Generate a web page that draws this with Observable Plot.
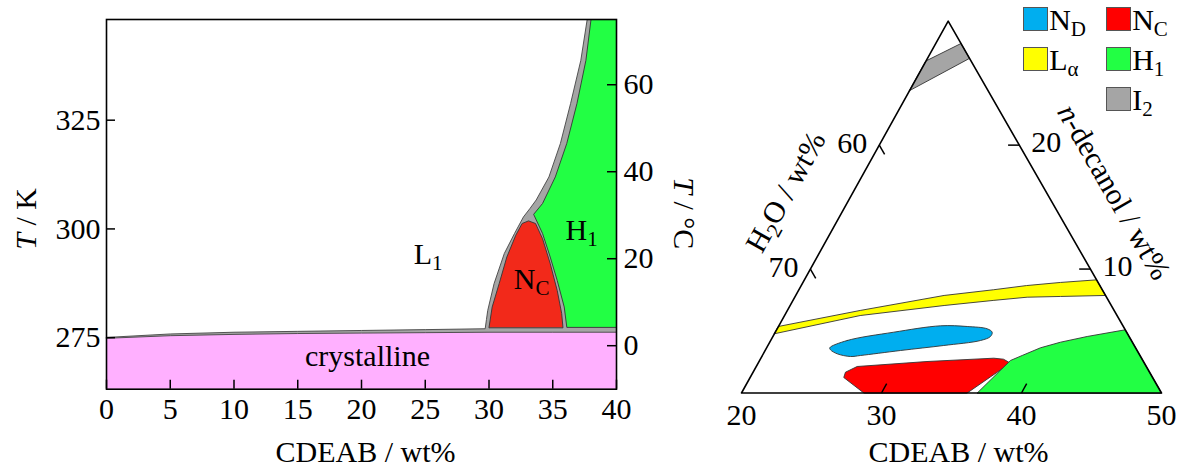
<!DOCTYPE html>
<html><head><meta charset="utf-8">
<script src="https://cdn.jsdelivr.net/npm/d3@7"></script>
<script src="https://cdn.jsdelivr.net/npm/@observablehq/plot@0.6"></script>
<style>
body{margin:0;background:#fff;}
#wrap{position:relative;width:1179px;height:468px;overflow:hidden;font-family:'Liberation Serif','Times New Roman',serif;}
#left,#right{position:absolute;top:0;}
#left{left:0;} #right{left:700px;}
.sw{position:absolute;width:23px;height:22px;border:1px solid #555;box-sizing:content-box;}
.lb{position:absolute;font-size:30px;line-height:30px;color:#000;white-space:nowrap;}
.lb sub{font-size:21px;vertical-align:baseline;position:relative;top:6px;}
</style></head><body><div id="wrap"><div id="left"></div><div id="right"></div><div id="legend"></div></div>
<script>
// ---------- Binary phase diagram: x = CDEAB wt%, y = T in °C ----------
const xTicks = [0, 5, 10, 15, 20, 25, 30, 35, 40];
const kelvinTicks = [275, 300, 325];
const celsiusTicks = [0, 20, 40, 60];
const crystallineTop = [[0,1.7],[5,2.3],[10,2.6],[15,2.8],[20,2.9],[25,3.0],[30,3.1],[35,3.1],[40,3.1]];
const l1Lower = [[0,1.9],[5,2.7],[10,3.1],[15,3.3],[20,3.5],[25,3.7],[29.7,3.9]];
const grayOuter = [[29.7,3.9],[29.8,6.0],[29.9,8.1],[30.4,14.3],[31.2,21.2],[32.0,25.8],[32.7,29.6],[33.2,31.5],[33.7,33.5],[34.7,38.8],[35.6,46.5],[36.4,55.7],[37.2,65.6],[37.7,75],[40,75],[40,3.1]];
const ncBinary = [[30.0,4.2],[30.25,8.9],[30.8,14.3],[31.4,20.4],[32.1,25.4],[32.6,28.1],[33.1,28.7],[33.65,28.1],[34.2,24.6],[34.8,18.9],[35.35,12.7],[35.7,7.4],[35.8,4.2]];
const h1Binary = [[36.1,4.3],[35.9,8.9],[35.35,15.0],[34.8,20.4],[34.2,25.8],[33.5,30.2],[34.2,32.7],[35.2,38.8],[36.1,46.5],[36.9,55.7],[37.6,65.6],[38.0,75],[40,75],[40,4.3]];
const phaseLabels = [
  {x: 24.1, y: 21.1, text: "L_{1}"},
  {x: 31.95, y: 15.3, text: "N_{C}"},
  {x: 36.0, y: 26.4, text: "H_{1}"}
];
const crystallineLabel = [{x: 20.47, y: -2.55, text: "crystalline"}];

// ---------- Ternary section: points are [CDEAB wt%, n-decanol wt%] ----------
const cdeabTicks = [30, 40];
const cdeabLabels = [20, 30, 40, 50];
const waterTicks = [60, 70];
const decanolTicks = [10, 20];
const triangle = [[20,0],[50,0],[20,30]];
const i2Tern = [[20,24.4],[23.0,27.0],[21.8,28.2],[20,26.8]];
const laTern = [[20.0,5.37],[25.2,6.66],[30.6,7.87],[33.9,8.33],[36.1,8.67],[38.4,8.92],[40.87,9.13],
                [42.13,7.87],[38.95,7.79],[36.6,7.73],[34.3,7.47],[31.0,7.06],[25.4,6.25],[20.0,4.78]];
const ndTern = [[24.51,3.647],[25.47,4.236],[28.46,4.906],[31.55,5.422],[33.48,5.366],[35.0,5.18],[35.49,4.906],[35.54,4.559],
                [34.99,4.236],[32.56,3.833],[29.67,3.429],[27.01,3.026],[26.34,2.945],[25.28,3.163],[24.64,3.486]];
const ncTern = [[28.74,0],[26.69,1.251],[26.6,1.678],[27.21,2.138],[32.0,2.54],[36.64,2.808],[37.37,2.727],[37.87,2.485],[37.8,2.138],[36.12,0]];
const h1Tern = [[36.84,0],[37.92,2.622],[38.56,3.026],[39.56,3.647],[40.77,4.099],[42.45,4.559],[44.9,5.1],[50,0]];

const legendItems = [
  {html: "N<sub>D</sub>", color: "#00aeef", col: 0, row: 0},
  {html: "N<sub>C</sub>", color: "#ff0000", col: 1, row: 0},
  {html: "L<sub>α</sub>", color: "#ffff00", col: 0, row: 1},
  {html: "H<sub>1</sub>", color: "#22ff44", col: 1, row: 1},
  {html: "I<sub>2</sub>", color: "#a5a5a5", col: 1, row: 2}
];

const FONT = "'Liberation Serif','Times New Roman',serif";
const PINK = "#ffb0ff", GRAY = "#a5a5a5", REDL = "#f2291a", GREEN = "#22ff44";
const EDGE = "#333";

function rich(svg) {
  svg.querySelectorAll("text").forEach(t => {
    const s = t.textContent;
    if (!/[_*]/.test(s)) return;
    const parts = s.split(/(\*[^*]+\*|_\{[^}]+\})/).filter(p => p.length);
    while (t.firstChild) t.removeChild(t.firstChild);
    let shifted = false;
    for (const p of parts) {
      const ts = document.createElementNS("http://www.w3.org/2000/svg", "tspan");
      if (p.startsWith("_{")) {
        ts.textContent = p.slice(2, -1);
        ts.setAttribute("font-size", 21);
        ts.setAttribute("dy", 6);
        shifted = true;
      } else {
        if (p.startsWith("*")) { ts.textContent = p.slice(1, -1); ts.setAttribute("font-style", "italic"); }
        else ts.textContent = p;
        if (shifted) { ts.setAttribute("dy", -6); shifted = false; }
      }
      t.appendChild(ts);
    }
  });
}

const px = d => d[0], py = d => d[1];
const grayPoly = [...l1Lower, ...grayOuter, ...crystallineTop.slice().reverse()];

// left panel geometry
const LW = 700, LH = 468, LM = {l: 106, r: 84, t: 19, b: 79.3};
const xDom = [0, 40], yDom = [-10, 75];
const TICK = 9; // tick length in px
const tickX = TICK * (xDom[1] - xDom[0]) / (LW - LM.l - LM.r);
const tickY = TICK * (yDom[1] - yDom[0]) / (LH - LM.t - LM.b);

const left = Plot.plot({
  width: LW, height: LH,
  marginLeft: LM.l, marginRight: LM.r, marginTop: LM.t, marginBottom: LM.b,
  x: {domain: xDom, axis: null},
  y: {domain: yDom, axis: null},
  style: {fontFamily: FONT, fontSize: "30px", background: "transparent", overflow: "visible", color: "black"},
  marks: [
    Plot.areaY(crystallineTop, {x: px, y1: yDom[0], y2: py, fill: PINK}),
    Plot.line(grayPoly, {x: px, y: py, fill: GRAY, stroke: "#444", strokeWidth: 0.9, curve: "linear-closed"}),
    Plot.line(ncBinary, {x: px, y: py, fill: REDL, stroke: EDGE, strokeWidth: 0.9, curve: "linear-closed"}),
    Plot.line(h1Binary, {x: px, y: py, fill: GREEN, stroke: EDGE, strokeWidth: 0.9, curve: "linear-closed"}),
    Plot.frame({stroke: "black", strokeWidth: 1.6}),
    // inward ticks
    Plot.ruleX(xTicks, {x: d => d, y1: yDom[0], y2: yDom[0] + tickY, stroke: "black", strokeWidth: 1.5}),
    Plot.ruleY(kelvinTicks, {y: k => k - 273.15, x1: xDom[0], x2: xDom[0] + tickX, stroke: "black", strokeWidth: 1.5}),
    Plot.ruleY(celsiusTicks, {y: d => d, x1: xDom[1] - tickX, x2: xDom[1], stroke: "black", strokeWidth: 1.5}),
    // tick labels
    Plot.text(xTicks, {x: d => d, y: yDom[0], text: d => String(d), dy: 8, lineAnchor: "top", textAnchor: "middle", fontSize: 30}),
    Plot.text(kelvinTicks, {x: xDom[0], y: k => k - 273.15, text: d => String(d), textAnchor: "end", dx: -6, lineAnchor: "middle", fontSize: 30}),
    Plot.text(celsiusTicks, {x: xDom[1], y: d => d, text: d => String(d), textAnchor: "start", dx: 7, lineAnchor: "middle", fontSize: 30}),
    Plot.text(phaseLabels, {x: "x", y: "y", text: "text", textAnchor: "start", fontSize: 30, lineAnchor: "middle"}),
    Plot.text(crystallineLabel, {x: "x", y: "y", text: "text", textAnchor: "middle", fontSize: 30, lineAnchor: "middle"}),
    Plot.text(["CDEAB / wt%"], {frameAnchor: "bottom", textAnchor: "middle", dx: 4, dy: 62.7, fontSize: 30, lineAnchor: "middle"}),
    Plot.text(["*T* / K"], {frameAnchor: "left", textAnchor: "middle", rotate: -90, dx: -80, dy: 14.5, fontSize: 30, lineAnchor: "middle"}),
    Plot.text(["*T* / °C"], {frameAnchor: "right", textAnchor: "middle", rotate: 90, dx: 67, dy: 9, fontSize: 30, lineAnchor: "middle"})
  ]
});
rich(left);
document.getElementById("left").appendChild(left);

// ternary -> plot coordinates (affine; slight skew to match the drawn triangle)
const K = 0.4921;
const tx = p => p[0] + K * p[1];
const ty = p => p[1];
const region = (data, fill, curve = "linear-closed") =>
  Plot.line(data, {x: tx, y: ty, fill, stroke: EDGE, strokeWidth: 0.9, curve});

const right = Plot.plot({
  width: 479, height: 468,
  marginLeft: 41, marginRight: 18, marginTop: 20.7, marginBottom: 75.5,
  x: {domain: [20, 50], axis: null},
  y: {domain: [0, 30], axis: null},
  style: {fontFamily: FONT, fontSize: "30px", background: "transparent", overflow: "visible", color: "black"},
  marks: [
    region(i2Tern, GRAY),
    region(laTern, "#ffff00"),
    region(ndTern, "#00aeef", "catmull-rom-closed"),
    region(ncTern, "#ff0000"),
    region(h1Tern, GREEN),
    Plot.line(triangle, {x: tx, y: ty, stroke: "black", strokeWidth: 1.6, curve: "linear-closed"}),
    Plot.link(cdeabTicks, {x1: d => tx([d, 0]), y1: 0, x2: d => tx([d, 0.75]), y2: 0.75, stroke: "black", strokeWidth: 1.5}),
    Plot.link(waterTicks, {x1: d => tx([20, 80 - d]), y1: d => 80 - d, x2: d => tx([20.75, 79.25 - d]), y2: d => 79.25 - d, stroke: "black", strokeWidth: 1.5}),
    Plot.link(decanolTicks, {x1: d => tx([50 - d, d]), y1: d => d, x2: d => tx([49.2 - d, d]), y2: d => d, stroke: "black", strokeWidth: 1.5}),
    Plot.text(cdeabLabels, {x: d => tx([d, 0]), y: 0, text: d => String(d), textAnchor: "middle", dy: 22, fontSize: 30, lineAnchor: "middle"}),
    Plot.text(waterTicks, {x: d => tx([20, 80 - d]), y: d => 80 - d, text: d => String(d), textAnchor: "end", dx: -12, dy: -2, fontSize: 30, lineAnchor: "middle"}),
    Plot.text(decanolTicks, {x: d => tx([50 - d, d]), y: d => d, text: d => String(d), textAnchor: "start", dx: 12, dy: -3, fontSize: 30, lineAnchor: "middle"}),
    Plot.text(["CDEAB / wt%"], {frameAnchor: "bottom", textAnchor: "middle", dx: 7, dy: 58.9, fontSize: 30, lineAnchor: "middle"}),
    Plot.text([[20, 15]], {x: tx, y: ty, text: () => "H_{2}O / wt%", textAnchor: "middle", rotate: -60.9, dx: -59, dy: -15, fontSize: 30, lineAnchor: "middle"}),
    Plot.text([[35, 15]], {x: tx, y: ty, text: () => "*n*-decanol / wt%", textAnchor: "middle", rotate: 60.15, dx: 59, dy: -15, fontSize: 30, lineAnchor: "middle"})
  ]
});
rich(right);
document.getElementById("right").appendChild(right);

// legend (HTML, top right)
const lg = document.getElementById("legend");
for (const it of legendItems) {
  const l = 1022.7 + it.col * 83, t = 7.3 + it.row * 40;
  const sw = document.createElement("div");
  sw.className = "sw"; sw.style.left = l + "px"; sw.style.top = t + "px"; sw.style.background = it.color;
  const lb = document.createElement("div");
  lb.className = "lb"; lb.style.left = (l + 26.5) + "px"; lb.style.top = (t - 2.4) + "px"; lb.innerHTML = it.html;
  lg.appendChild(sw); lg.appendChild(lb);
}
</script>
</body></html>
